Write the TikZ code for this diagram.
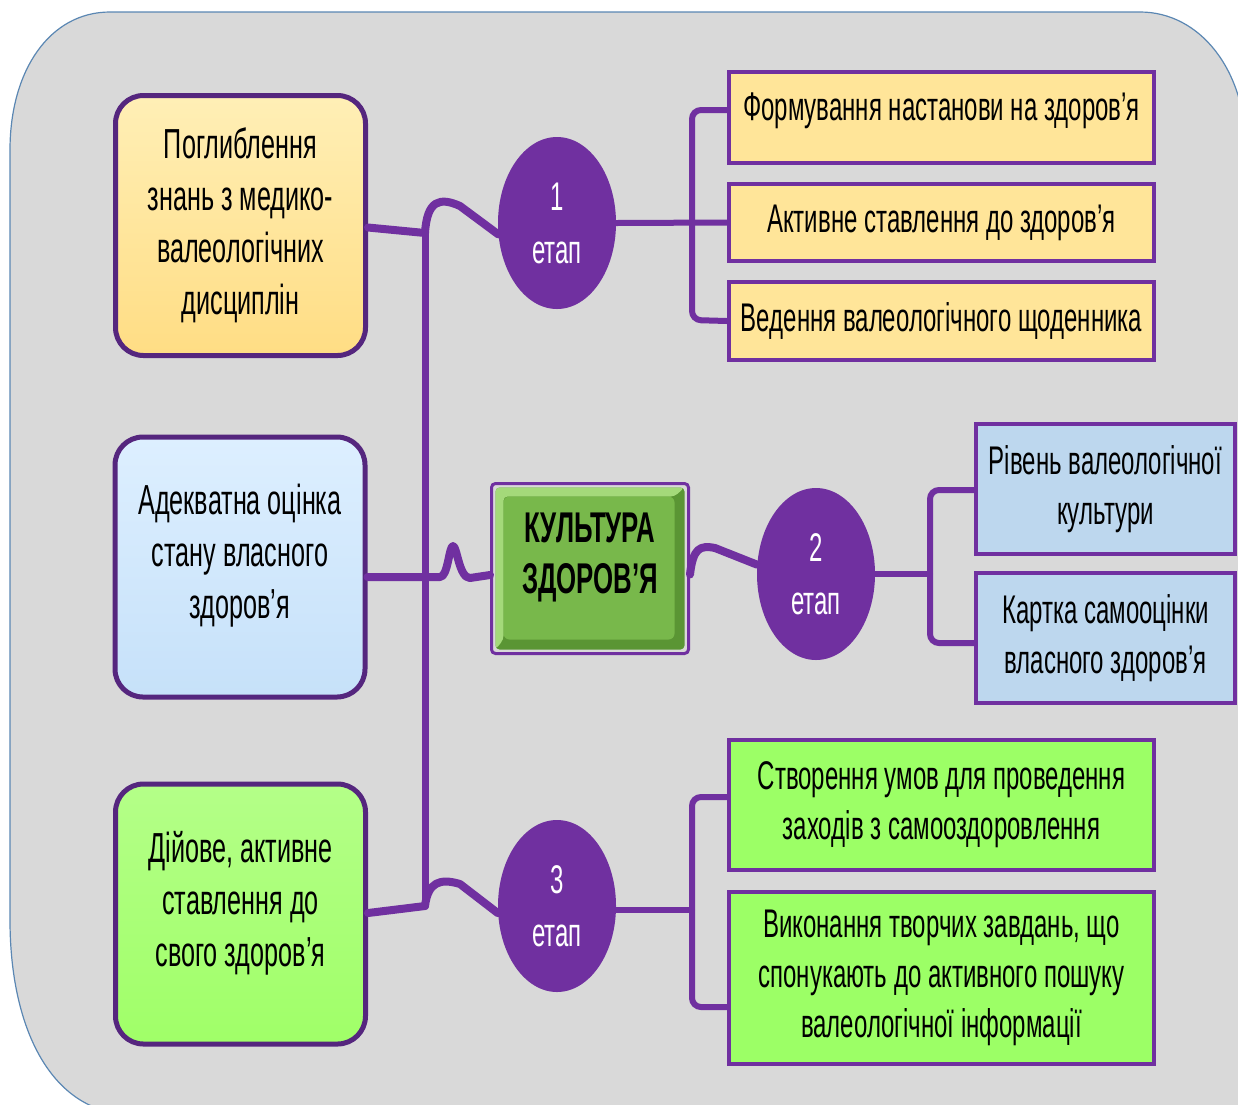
\documentclass[tikz,border=0pt]{standalone}
\usepackage{fontspec}
\setmainfont{Liberation Sans}[FakeStretch=0.6]
\usetikzlibrary{shapes.geometric,calc}

\definecolor{bgfill}{HTML}{D9D9D9}
\definecolor{bgline}{HTML}{5B87B3}
\definecolor{plum}{HTML}{7030A0}
\definecolor{deepplum}{HTML}{55267E}
\definecolor{sand}{HTML}{FFE599}
\definecolor{sky}{HTML}{BDD7EE}
\definecolor{lime}{HTML}{9CFF66}
\definecolor{leaf}{HTML}{78B84B}
\definecolor{leaflight}{HTML}{A4D97A}
\definecolor{leafdark}{HTML}{5A9534}
\definecolor{sandtop}{HTML}{FFEFB6}
\definecolor{sandbot}{HTML}{FFDD84}
\definecolor{icetop}{HTML}{DDEFFF}
\definecolor{icebot}{HTML}{C6E1F9}
\definecolor{limetop}{HTML}{B4FF88}
\definecolor{limebot}{HTML}{A0FF68}

\begin{document}
\begin{tikzpicture}[x=1pt,y=-1pt,
  txt/.style={font=\fontsize{42}{52}\selectfont, align=center, text=black, inner sep=0pt},
  sidebox/.style={draw=deepplum, line width=5pt, rounded corners=28pt,
    minimum width=250pt, minimum height=260pt, inner sep=0pt},
  itembox/.style={draw=plum, line width=4pt, inner sep=0pt, text=black,
    font=\fontsize{40}{50}\selectfont, align=center, minimum width=425pt},
  stage/.style={ellipse, fill=plum, minimum width=118pt, minimum height=172pt,
    inner sep=0pt, text=white, font=\fontsize{40}{53}\selectfont, align=center},
  link/.style={draw=plum, line width=8pt, line cap=round, line join=round},
  twig/.style={draw=plum, line width=6pt, rounded corners=9pt},
  hub/.style={draw=plum, line width=3pt, rounded corners=4pt,
    minimum width=197pt, minimum height=170pt, inner sep=0pt,
    path picture={
      \fill[leafdark] ([shift={(4pt,-4pt)}]path picture bounding box.north west)
        rectangle ([shift={(-4pt,4pt)}]path picture bounding box.south east);
      \fill[leaflight] ([shift={(4pt,-4pt)}]path picture bounding box.north west)
        -- ([shift={(-4pt,-4pt)}]path picture bounding box.north east)
        -- ([shift={(-14pt,-13pt)}]path picture bounding box.north east)
        -- ([shift={(12pt,-13pt)}]path picture bounding box.north west)
        -- ([shift={(12pt,14pt)}]path picture bounding box.south west)
        -- ([shift={(4pt,4pt)}]path picture bounding box.south west) -- cycle;
      \fill[leaf, rounded corners=6pt] ([shift={(12pt,-13pt)}]path picture bounding box.north west)
        rectangle ([shift={(-14pt,14pt)}]path picture bounding box.south east);
    }},
]
\useasboundingbox (0,0) rectangle (1238,1104);

% backdrop panel
\path[fill=bgfill, draw=bgline, line width=1.2pt]
  (110,12) -- (1140,12) .. controls (1200,12) and (1246,70) .. (1246,150)
  -- (1246,1125) -- (110,1112) .. controls (45,1098) and (10,1020) .. (10,920)
  -- (10,150) .. controls (10,70) and (50,12) .. (110,12) -- cycle;

% left column
\node[sidebox, top color=sandtop, bottom color=sandbot] (L1) at (240.5,225.5) {};
\node[txt] (L1t) at (L1.center) {Поглиблення\\знань з медико-\\валеологічних\\дисциплін};
\node[sidebox, top color=icetop, bottom color=icebot] (L2) at (240,567) {};
\node[txt] (L2t) at ([yshift=11pt]L2.center) {Адекватна оцінка\\стану власного\\здоров’я};
\node[sidebox, top color=limetop, bottom color=limebot] (L3) at (240.5,914) {};
\node[txt] (L3t) at ([yshift=11pt]L3.center) {Дійове, активне\\ставлення до\\свого здоров’я};

% central node
\node[hub] (C) at (590,568.5) {};
\node[txt, font=\fontsize{43}{51}\bfseries\selectfont] (Ct) at ([yshift=11pt]C.center) {КУЛЬТУРА\\ЗДОРОВ’Я};

% stages
\node[stage] (E1) at (557,223) {1\\етап};
\node[stage] (E2) at (816,574) {2\\етап};
\node[stage] (E3) at (557,906) {3\\етап};

% right column
\node[itembox, fill=sand, minimum height=91pt] (R1) at (941.5,117.5) {};
\node[txt, font=\fontsize{40}{50}\selectfont] (R1t) at ([yshift=7pt]R1.center) {Формування настанови на здоров’я};
\node[itembox, fill=sand, minimum height=77pt] (R2) at (941.5,222.5) {Активне ставлення до здоров’я};
\node[itembox, fill=sand, minimum height=78pt] (R3) at (941.5,321) {Ведення валеологічного щоденника};
\node[itembox, fill=sky, minimum width=259pt, minimum height=130pt] (R4) at (1105.5,489) {Рівень валеологічної\\культури};
\node[itembox, fill=sky, minimum width=259pt, minimum height=130pt] (R5) at (1105.5,638) {Картка самооцінки\\власного здоров’я};
\node[itembox, fill=lime, minimum height=130pt] (R6) at (941.5,805) {Створення умов для проведення\\заходів з самооздоровлення};
\node[itembox, fill=lime, minimum height=172pt] (R7) at (941.5,978) {Виконання творчих завдань, що\\спонукають до активного пошуку\\валеологічної інформації};

% trunk on the left
\coordinate (J1) at (425,233);
\coordinate (J3) at (425,906);
\draw[link, line width=7pt] (J1) -- (J3);

% left boxes to trunk and onwards
\draw[link] ([yshift=-2pt]L1.east) -- (J1);
\draw[link] (J1) .. controls (427,200) and (440,197) .. (460,206) -- (E1.191);
\draw[link] ([yshift=-10pt]L2.east) -- (440,577)
  .. controls (448,577) and (449,546) .. (453,546)
  .. controls (457,546) and (459,578) .. (470,578) -- ([yshift=-6.5pt]C.west);
\draw[link] ([yshift=1pt]L3.east) -- (J3);
\draw[link] (J3) .. controls (428,882) and (440,878) .. (460,884) -- (E3.187);

% hub to stage 2
\draw[link] ([yshift=-6pt]C.east) .. controls (693,548) and (700,545) .. (715,548) -- (E2.171);

% stage 1 bracket
\coordinate (B1a) at (692,110);
\coordinate (B1b) at (692,320);
\draw[link, line width=6pt] (E1.east) -- (R2.west);
\draw[twig] ([yshift=7.5pt]R1.west) -- (B1a) -- (B1b) -- (R3.west);

% stage 2 bracket
\coordinate (B2m) at (930,574);
\coordinate (B2a) at (930,490);
\coordinate (B2b) at (930,643);
\draw[link, line width=6pt] (E2.east) -- (B2m);
\draw[twig] ([yshift=-1pt]R4.west) -- (B2a) -- (B2b) -- ([yshift=-5pt]R5.west);

% stage 3 bracket
\coordinate (B3m) at (692,910);
\coordinate (B3a) at (692,797);
\coordinate (B3b) at (692,1007);
\draw[link, line width=6pt] ([yshift=-4pt]E3.east) -- (B3m);
\draw[twig] ([yshift=8pt]R6.west) -- (B3a) -- (B3b) -- ([yshift=-29pt]R7.west);
\end{tikzpicture}
\end{document}
